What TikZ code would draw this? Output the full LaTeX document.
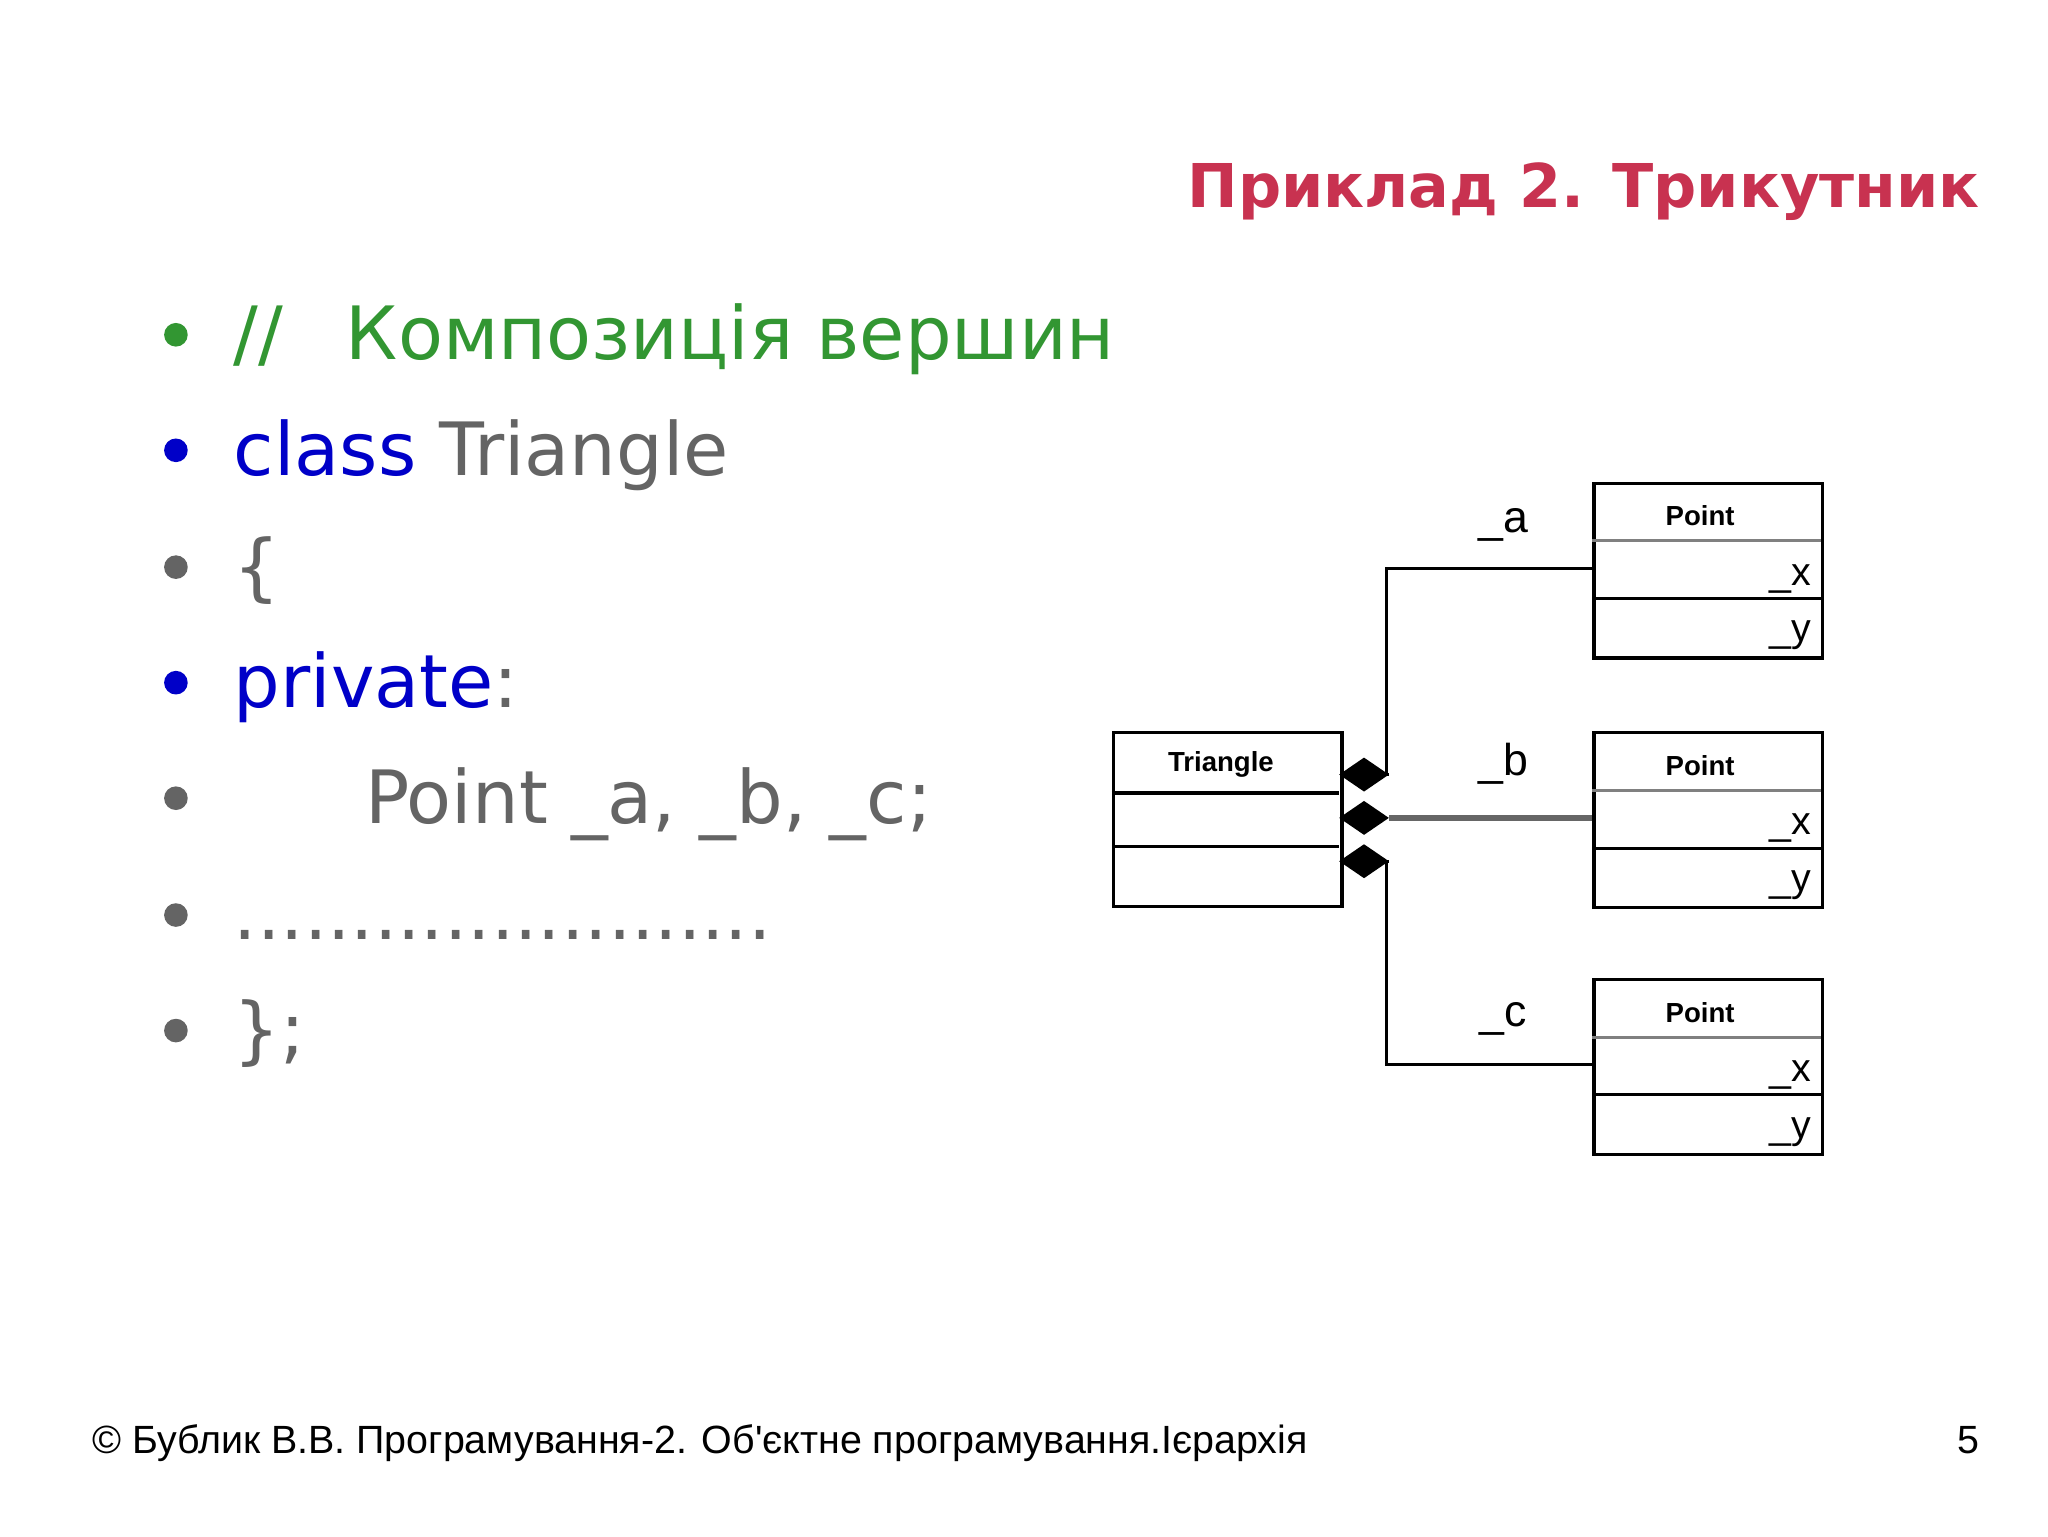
\documentclass[tikz,border=0pt]{standalone}
\usepackage{fontspec}
\setmainfont{DejaVu Sans}
\newfontfamily\arialf{Liberation Sans}
\usetikzlibrary{shapes.geometric}
\definecolor{ttl}{RGB}{200,50,80}
\definecolor{cgreen}{RGB}{50,150,50}
\definecolor{cblue}{RGB}{0,0,200}
\definecolor{cgray}{RGB}{100,100,100}
\begin{document}
\begin{tikzpicture}[x=1pt,y=-1pt,
  bul/.style={circle,fill=#1,inner sep=0pt,minimum size=18},
  txt/.style={anchor=base west,inner sep=0pt,font=\fontsize{56}{66}\selectfont},
  box/.style={draw,line width=2.4,minimum width=174,inner sep=0pt,anchor=north west},
  lbl/.style={font=\arialf\fontsize{34}{40}\selectfont,inner sep=0pt},
  fld/.style={font=\arialf\fontsize{30}{34}\selectfont,inner sep=0pt,anchor=base east},
  pt/.style={font=\arialf\bfseries\fontsize{21}{24}\selectfont,inner sep=0pt},
  dia/.style={diamond,fill=black,inner sep=0pt,minimum width=38,minimum height=26},
  con/.style={line width=2.4}]
\useasboundingbox[fill=white] (0,0) rectangle (1560,1170);
\node[anchor=base east,inner sep=0pt,text=ttl,font=\bfseries\fontsize{46}{54}\selectfont] (title) at (1508,158) {Приклад 2. Трикутник};
% bullets
\foreach \y/\c [count=\i] in {255/cgreen,343/cblue,432/cgray,520/cblue,608/cgray,697/cgray,785/cgray}
  \node[bul=\c] (b\i) at (134,\y) {};
\node[txt,text=cgreen] (l1) at (178,274) {//\hspace{0.85em}Композиція вершин};
\node[txt,text=cgray] (l2) at (178,362) {\textcolor{cblue}{class} Triangle};
\node[txt,text=cgray] (l3) at (178,451) {\{};
\node[txt,text=cgray] (l4) at (178,539) {\textcolor{cblue}{private}:};
\node[txt,text=cgray] (l5) at (278,627) {Point \_a, \_b, \_c;};
\node[txt,text=cgray] (l6) at (178,716) {.......................};
\node[txt,text=cgray] (l7) at (178,804) {\};};
% footer
\node[anchor=base west,inner sep=0pt,font=\arialf\fontsize{30}{34}\selectfont] (foot) at (70,1107) {© Бублик В.В. Програмування-2. Об'єктне програмування.Ієрархія};
\node[anchor=base east,inner sep=0pt,font=\arialf\fontsize{30}{34}\selectfont] (num) at (1508,1107) {5};
% boxes
\node[box,minimum height=132] (tri) at (847,557) {};
\draw[con] (847,604) -- (1020,604) (847,645) -- (1020,645);
\node[pt] (tname) at (930,582) {Triangle};
\foreach \n/\t in {pa/367,pb/557,pc/745}{
  \node[box,minimum height=133] (\n) at (1213,\t) {};
  \draw[con,gray] (1213,\t+45) -- (1387,\t+45);
  \draw[con] (1213,\t+89) -- (1387,\t+89);
  \node[pt] (\n t) at (1295,\t+26) {Point};
  \node[fld] (\n x) at (1380,\t+79) {\_x};
  \node[fld] (\n y) at (1380,\t+122) {\_y};
}
\node[dia] (da) at (1039,590) {};
\node[dia] (db) at (1039,623) {};
\node[dia] (dc) at (1039,656) {};
\draw[con] (da.east) -- ++(-2,0) |- (pa.west |- 0,433);
\draw[con,gray!80!black,line width=4] (db.east) -- (pb.west |- db);
\draw[con] (dc.east) -- ++(-2,0) |- (pc.west |- 0,811);
\node[lbl] (la) at (1145,400) {\_a};
\node[lbl] (lb) at (1145,582) {\_b};
\node[lbl] (lc) at (1145,776) {\_c};
\end{tikzpicture}
\end{document}
